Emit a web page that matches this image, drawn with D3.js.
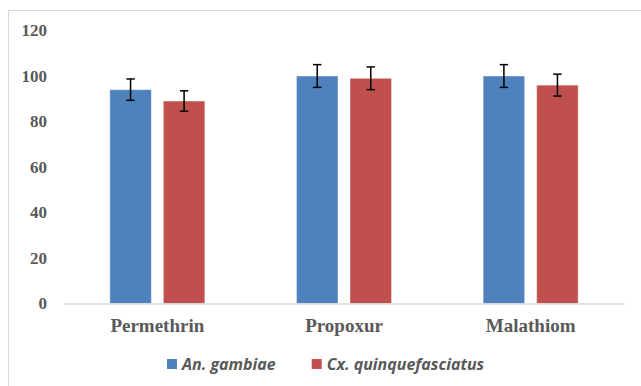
<!DOCTYPE html>
<html><head><meta charset="utf-8">
<script src="https://cdn.jsdelivr.net/npm/d3@7"></script>
<style>body{margin:0;background:#fff}svg{display:block}</style>
</head><body><svg id="c" width="641" height="386"></svg>
<script>
const categories = ["Permethrin", "Propoxur", "Malathiom"];
const seriesNames = ["An. gambiae", "Cx. quinquefasciatus"];
const anGambiae = [94, 100, 100];
const cxQuinq = [89, 99, 96];
const anGambiaeErr = [4.7, 5, 5];
const cxQuinqErr = [4.5, 5, 4.8];
const yTicks = [0, 20, 40, 60, 80, 100, 120];
const colors = ["#4F81BD", "#C0504D"];

const svg = d3.select("#c");
svg.append("rect").attr("x", 8.5).attr("y", 10.5).attr("width", 640).attr("height", 380)
  .attr("fill", "#fff").attr("stroke", "#d9d9d9").attr("stroke-width", 1);

const x0 = d3.scaleBand().domain(categories).range([64, 624]).paddingInner(0).paddingOuter(0);
const x1 = d3.scaleBand().domain(seriesNames).range([45.8, x0.bandwidth() - 45.8]).paddingInner(0.224);
const y = d3.scaleLinear().domain([0, 120]).range([303.5, 30.5]);

// y tick labels
const yAxis = d3.axisLeft(y).tickValues(yTicks).tickSize(0).tickPadding(0);
const gy = svg.append("g").attr("transform", "translate(47,0)").call(yAxis);
gy.select(".domain").remove();
gy.selectAll("text").attr("font-family", "'Liberation Serif', 'Times New Roman', serif")
  .attr("font-weight", "bold").attr("font-size", 17).attr("fill", "#595959");

const series = [
  {name: seriesNames[0], vals: anGambiae, errs: anGambiaeErr, color: colors[0]},
  {name: seriesNames[1], vals: cxQuinq, errs: cxQuinqErr, color: colors[1]}
];

series.forEach(s => {
  const g = svg.append("g");
  g.selectAll("rect").data(categories).join("rect")
    .attr("x", c => x0(c) + x1(s.name))
    .attr("y", (c, i) => y(s.vals[i]))
    .attr("width", x1.bandwidth())
    .attr("height", (c, i) => y(0) - y(s.vals[i]))
    .attr("fill", s.color)
    .attr("stroke", "rgba(255,255,255,0.45)").attr("stroke-width", 1);
});

// baseline
const xAxis = d3.axisBottom(x0).tickSize(0).tickPadding(0);
const gx = svg.append("g").attr("transform", `translate(0,${y(0)})`).call(xAxis);
gx.select(".domain").attr("stroke", "#d9d9d9").attr("stroke-width", 1.5);
gx.selectAll("text").attr("font-family", "'Liberation Serif', 'Times New Roman', serif")
  .attr("font-weight", "bold").attr("font-size", 19).attr("fill", "#595959")
  .attr("dy", 0).attr("y", 28.5);

// error bars
series.forEach(s => {
  const g = svg.append("g").attr("stroke", "#000").attr("stroke-width", 1.5);
  categories.forEach((c, i) => {
    const cx = x0(c) + x1(s.name) + x1.bandwidth() / 2;
    const hi = y(s.vals[i] + s.errs[i]), lo = y(s.vals[i] - s.errs[i]);
    g.append("line").attr("x1", cx).attr("x2", cx).attr("y1", hi).attr("y2", lo);
    g.append("line").attr("x1", cx - 4.2).attr("x2", cx + 4.2).attr("y1", hi).attr("y2", hi);
    g.append("line").attr("x1", cx - 4.2).attr("x2", cx + 4.2).attr("y1", lo).attr("y2", lo);
  });
});

// legend
const legendX = [167, 311.7];
const lg = svg.append("g");
series.forEach((s, i) => {
  lg.append("rect").attr("x", legendX[i]).attr("y", 359).attr("width", 10).attr("height", 10).attr("fill", s.color);
  lg.append("text").attr("x", legendX[i] + 15).attr("y", 369.5)
    .attr("font-family", "'Open Sans', 'Noto Sans', sans-serif").attr("font-style", "italic").attr("font-weight", "bold")
    .attr("font-size", 16).attr("fill", "#595959").text(s.name);
});
</script></body></html>
